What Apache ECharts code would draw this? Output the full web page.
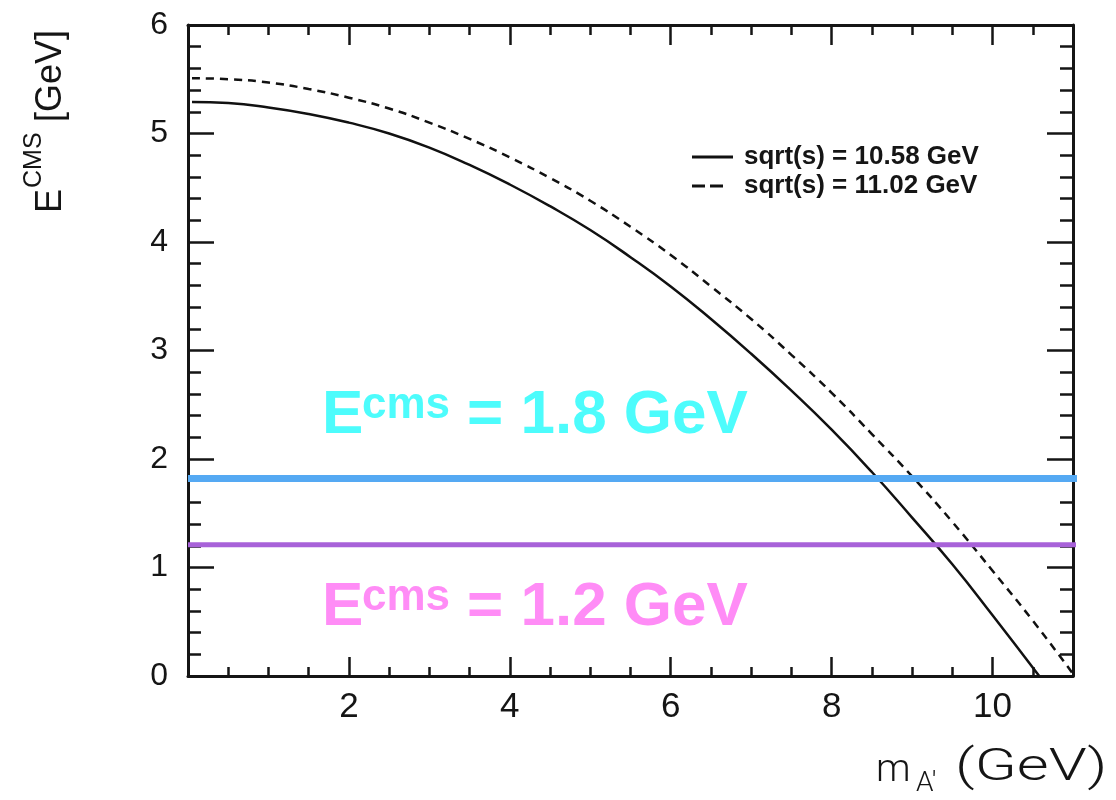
<!DOCTYPE html>
<html>
<head>
<meta charset="utf-8">
<script src="https://cdn.jsdelivr.net/npm/echarts@6/dist/echarts.min.js"></script>
<style>
html,body{margin:0;padding:0;background:#fff;}
#chart{width:1116px;height:800px;}
</style>
</head>
<body>
<div id="chart"></div>
<script>
// ---- data ----
var xTickLabels = [2, 4, 6, 8, 10];
var yTickLabels = [0, 1, 2, 3, 4, 5, 6];
var massSolid = [0.05, 0.5, 1, 1.5, 2, 2.5, 3, 3.5, 4, 4.5, 5, 5.5, 6, 6.5, 7, 7.5, 8, 8.5, 9, 9.5, 10, 10.58];
var ecmsSolid = [5.29, 5.28, 5.24, 5.18, 5.10, 5.00, 4.87, 4.71, 4.53, 4.33, 4.11, 3.86, 3.59, 3.29, 2.97, 2.63, 2.27, 1.88, 1.46, 1.03, 0.56, 0.0];
var massDashed = [0.05, 0.5, 1, 1.5, 2, 2.5, 3, 3.5, 4, 4.5, 5, 5.5, 6, 6.5, 7, 7.5, 8, 8.5, 9, 9.5, 10, 10.5, 11.0];
var ecmsDashed = [5.51, 5.50, 5.47, 5.41, 5.33, 5.23, 5.10, 4.95, 4.78, 4.59, 4.38, 4.14, 3.88, 3.59, 3.29, 2.96, 2.61, 2.23, 1.84, 1.42, 0.97, 0.51, 0.02];
var lineBlueX = [0, 11.12];
var lineBlueY = [1.82, 1.82];
var linePurpleX = [0, 11.12];
var linePurpleY = [1.21, 1.21];
var seriesNames = ['sqrt(s) = 10.58 GeV', 'sqrt(s) = 11.02 GeV'];

function zip(xs, ys) { return xs.map(function (x, i) { return [x, ys[i]]; }); }

var chart = echarts.init(document.getElementById('chart'), null, { renderer: 'canvas' });
var axisColor = '#151515';
var labelFont = '"Liberation Sans", Arial, Helvetica, sans-serif';

function xAxisCfg(pos, showLabel, majorLen, minorLen) {
  return {
    type: 'value', position: pos, min: 0, max: 11, interval: 2,
    axisLine: { show: true, onZero: false, lineStyle: { color: axisColor, width: 3 } },
    axisTick: { show: true, inside: true, length: majorLen, lineStyle: { color: axisColor, width: 2.5 } },
    minorTick: { show: true, splitNumber: 4, length: minorLen, lineStyle: { color: axisColor, width: 2.5 } },
    axisLabel: {
      show: showLabel, margin: 14, fontSize: 35, color: '#151515', fontFamily: labelFont,
      formatter: function (v) { return xTickLabels.indexOf(v) >= 0 ? String(v) : ''; }
    },
    splitLine: { show: false }, minorSplitLine: { show: false }
  };
}
function yAxisCfg(pos, showLabel, majorLen, minorLen) {
  return {
    type: 'value', position: pos, min: 0, max: 6, interval: 1,
    axisLine: { show: true, onZero: false, lineStyle: { color: axisColor, width: 3 } },
    axisTick: { show: true, inside: true, length: majorLen, lineStyle: { color: axisColor, width: 2.5 } },
    minorTick: { show: true, splitNumber: 5, length: minorLen, lineStyle: { color: axisColor, width: 2.5 } },
    axisLabel: {
      show: showLabel, margin: 20, fontSize: 32, color: '#151515', fontFamily: labelFont,
      formatter: function (v) { return yTickLabels.indexOf(v) >= 0 ? String(v) : ''; }
    },
    splitLine: { show: false }, minorSplitLine: { show: false }
  };
}

function txt(x, y, text, size, color, weight, family, rot, sx) {
  return {
    type: 'text', x: x, y: y, rotation: rot || 0, scaleX: sx || 1, z: 100,
    style: {
      text: text, fontSize: size, fontWeight: weight || 'normal',
      fontFamily: family || labelFont, fill: color,
      align: 'left', verticalAlign: 'middle'
    }
  };
}
var boldFont = '"Liberation Sans", Arial, Helvetica, sans-serif';
var lightFont = 'Roboto, "Open Sans", "Liberation Sans", sans-serif';
var cyan = '#4dfcfc', pink = '#ff8cf6';

var solidIcon = 'path://M0,0L41,0L41,3L0,3Z';
var dashedIcon = 'path://M0,0L13,0L13,3L0,3Z M18,0L31,0L31,3L18,3Z M41,1.5L41,1.5Z';

var option = {
  backgroundColor: '#ffffff',
  animation: false,
  grid: { left: 188, right: 43, top: 25, bottom: 124, containLabel: false },
  xAxis: [xAxisCfg('bottom', true, 19, 9), xAxisCfg('top', false, 20, 10)],
  yAxis: [yAxisCfg('left', true, 26, 13), yAxisCfg('right', false, 26, 13)],
  legend: {
    show: true, orient: 'vertical', left: 687, top: 139,
    itemWidth: 41, itemHeight: 3, itemGap: 3,
    data: [
      { name: seriesNames[0], icon: solidIcon },
      { name: seriesNames[1], icon: dashedIcon }
    ],
    itemStyle: { color: '#111', borderWidth: 0 },
    textStyle: { fontSize: 26, fontWeight: 'bold', color: '#151515', fontFamily: boldFont, padding: [0, 0, 0, 6] }
  },
  series: [
    {
      name: seriesNames[0], type: 'line', xAxisIndex: 0, yAxisIndex: 0,
      data: zip(massSolid, ecmsSolid), smooth: true, symbol: 'none', z: 3,
      lineStyle: { color: '#111', width: 2.5, type: 'solid' }, itemStyle: { color: '#111' }
    },
    {
      name: seriesNames[1], type: 'line', xAxisIndex: 0, yAxisIndex: 0,
      data: zip(massDashed, ecmsDashed), smooth: true, symbol: 'none', z: 3,
      lineStyle: { color: '#111', width: 2.5, type: [8, 6] }, itemStyle: { color: '#111' }
    },
    {
      name: 'E1.8', type: 'line', xAxisIndex: 0, yAxisIndex: 0, clip: false,
      data: zip(lineBlueX, lineBlueY), symbol: 'none', z: 4, silent: true,
      lineStyle: { color: '#55a9f3', width: 7 }
    },
    {
      name: 'E1.2', type: 'line', xAxisIndex: 0, yAxisIndex: 0, clip: false,
      data: zip(linePurpleX, linePurpleY), symbol: 'none', z: 4, silent: true,
      lineStyle: { color: '#a862d9', width: 5 }
    }
  ],
  graphic: [
    // y axis title (rotated)
    txt(51, 213, 'E', 36, '#151515', 'normal', labelFont, Math.PI / 2),
    txt(34, 188, 'CMS', 25, '#151515', 'normal', labelFont, Math.PI / 2),
    txt(51, 122, '[GeV]', 36, '#151515', 'normal', labelFont, Math.PI / 2),
    // x axis title
    txt(876, 771, 'm', 39, '#151515', 300, lightFont),
    txt(916, 784, 'A\u2032', 28, '#151515', 300, lightFont),
    txt(955, 769, '(GeV)', 44, '#151515', 300, lightFont, 0, 1.4),
    // annotations
    txt(322, 416, 'E', 62, cyan, 'bold', boldFont),
    txt(362, 406, 'cms', 44, cyan, 'bold', boldFont),
    txt(467, 416, '= 1.8 GeV', 62, cyan, 'bold', boldFont),
    txt(322, 608, 'E', 62, pink, 'bold', boldFont),
    txt(362, 598, 'cms', 44, pink, 'bold', boldFont),
    txt(467, 608, '= 1.2 GeV', 62, pink, 'bold', boldFont)
  ]
};
chart.setOption(option);
</script>
</body>
</html>
